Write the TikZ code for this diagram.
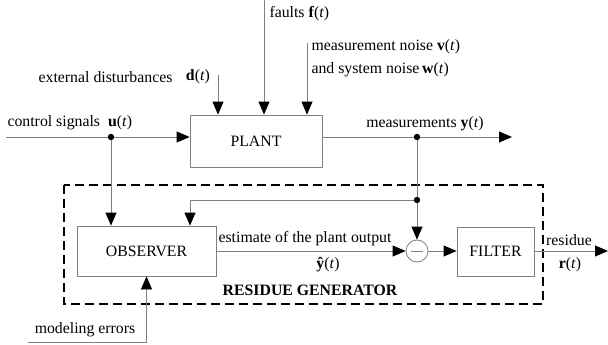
\documentclass[tikz,border=0pt]{standalone}
\usepackage{fontspec}
\setmainfont{Liberation Serif}
\usetikzlibrary{arrows.meta, calc}
\definecolor{wiregray}{HTML}{7F7F7F}

\newcommand{\sig}[1]{\textbf{#1}(\textit{t})}

\begin{document}
\begin{tikzpicture}[x=1pt, y=-1pt, font=\fontsize{15.8}{18}\selectfont,
        block/.style={draw=wiregray, line width=0.8pt, minimum width=#1, inner sep=0pt},
        wire/.style={draw=wiregray, line width=0.8pt},
        flow/.style={wire, -{Triangle[length=13pt, width=11pt, color=black]}},
        dot/.style={circle, fill=black, inner sep=0pt, minimum size=6pt}]
            \useasboundingbox (0,0) rectangle (608,345);
            % blocks
            \node[block=132pt, minimum height=52pt] (plant) at (256,141) {PLANT};
            \node[block=139pt, minimum height=50pt] (observer) at (146.5,251) {OBSERVER};
            \node[block=77pt, minimum height=49pt] (filter) at (495.5,251.5) {FILTER};
            \node[draw=wiregray, line width=0.8pt, circle, minimum size=22pt, inner sep=0pt] (sum) at (417,251) {};
            \draw[wire] ($(sum.center)+(-6,0)$) -- ($(sum.center)+(6,0)$);
            % residue generator frame
            \draw[line width=2.2pt, dash pattern=on 9pt off 5pt] (64,185) rectangle (543,304);
            \node[font=\fontsize{15.8}{18}\selectfont\bfseries] (rg) at (310,290) {RESIDUE GENERATOR};
            % plant inputs
            \coordinate (uin) at (6,137);
            \coordinate (ujoin) at (111,137);
            \coordinate (dtop) at (218,75);
            \coordinate (ftop) at (264,0);
            \coordinate (vtop) at (307,43);
            \draw[flow] (uin) -- (plant.west |- uin);
            \draw[flow] (dtop) -- (plant.north -| dtop);
            \draw[flow] (ftop) -- (plant.north -| ftop);
            \draw[flow] (vtop) -- (plant.north -| vtop);
            \node[anchor=west] (ulabel) at (4,123) {control signals \ \sig{u}};
            \node[anchor=east] (dlabel) at (176,77) {external disturbances};
            \node (dsig) at (198,77) {\sig{d}};
            \node[anchor=west] (flabel) at (266,14) {faults \sig{f}};
            \node[anchor=west] (vlabel) at (308,47) {measurement noise \sig{v}};
            \node[anchor=west] (wlabel) at (308,70) {and system noise\,\sig{w}};
            % plant output
            \coordinate (yjoin) at (417,137);
            \coordinate (yout) at (512,137);
            \coordinate (fb) at (417,200);
            \coordinate (fbin) at (190,0);
            \draw[flow] (plant.east |- yjoin) -- (yout);
            \node (ylabel) at (425,124) {measurements \sig{y}};
            % observer
            \draw[flow] (ujoin) -- (observer.north -| ujoin);
            \draw[wire] (yjoin) -- (fb);
            \draw[flow] (fb) -- (sum.north);
            \draw[flow] (fb) -| (observer.north -| fbin);
            \draw[flow] (observer.east |- sum.west) -- (sum.west);
            \node (estlabel) at (305,239) {estimate of the plant output};
            \node (yhat) at (328,265) {\textbf{\^y}(\textit{t})};
            \coordinate (merr) at (28,342);
            \draw[flow] (merr) -| (observer.south);
            \node (merrlabel) at (85,330) {modeling errors};
            % filter and residue
            \draw[flow] (sum.east) -- (filter.west |- sum.east);
            \coordinate (rout) at (608,251);
            \draw[flow] (filter.east |- rout) -- (rout);
            \node (rlabel) at (569,240) {residue};
            \node (rsig) at (570,265) {\sig{r}};
            \fill (ujoin) circle[radius=3.2pt];
            \fill (yjoin) circle[radius=3.2pt];
            \fill (fb) circle[radius=3.2pt];
\end{tikzpicture}
\end{document}
